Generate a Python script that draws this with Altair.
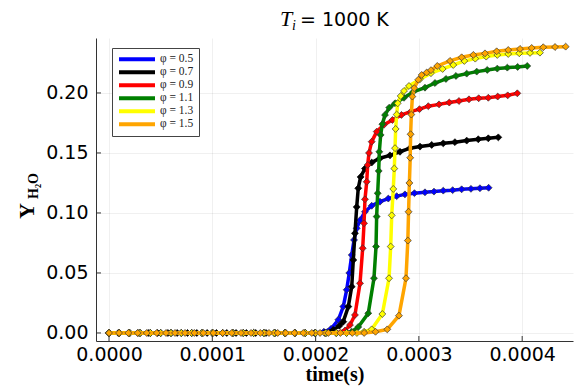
import altair as alt
import pandas as pd

PHI_LABELS = ["φ = 0.5", "φ = 0.7", "φ = 0.9", "φ = 1.1", "φ = 1.3", "φ = 1.5"]
COLORS = ["#0000ff", "#000000", "#ff0000", "#008000", "#ffff00", "#ffa500"]

# time values in units of 1e-4 s, Y_H2O mass fraction
T_05 = [0.0, 0.1, 0.2, 0.3, 0.4, 0.5, 0.6, 0.7, 0.8, 0.9, 1.0, 1.1, 1.2, 1.3, 1.4, 1.5, 1.6, 1.7, 1.8, 1.9, 2.0,
        2.08, 2.15, 2.22, 2.268, 2.301, 2.326, 2.35, 2.372, 2.398, 2.43, 2.478, 2.543, 2.623, 2.704, 2.785, 2.865,
        2.957, 3.059, 3.146, 3.236, 3.327, 3.414, 3.504, 3.591, 3.675]
Y_05 = [0, 0, 0, 0, 0, 0, 0, 0, 0, 0, 0, 0, 0, 0, 0, 0, 0, 0, 0, 0, 0,
        0.001, 0.0035, 0.011, 0.022, 0.036, 0.05, 0.065, 0.0775, 0.0872, 0.094, 0.101, 0.106, 0.1094, 0.112, 0.114, 0.1155,
        0.1165, 0.1172, 0.1178, 0.1186, 0.119, 0.1197, 0.1201, 0.1206, 0.121]

T_07 = [0.0, 0.09, 0.19, 0.28, 0.38, 0.47, 0.57, 0.66, 0.76, 0.85, 0.95, 1.04, 1.14, 1.23, 1.33, 1.42, 1.52, 1.61,
        1.71, 1.80, 1.90, 1.99, 2.09, 2.171, 2.23, 2.268, 2.317, 2.35, 2.365, 2.381, 2.398, 2.413, 2.436, 2.478, 2.543,
        2.623, 2.72, 2.817, 2.914, 3.011, 3.124, 3.236, 3.349, 3.463, 3.575, 3.672, 3.769]
Y_07 = [0, 0, 0, 0, 0, 0, 0, 0, 0, 0, 0, 0, 0, 0, 0, 0, 0, 0,
        0, 0, 0, 0, 0, 0.0025, 0.006, 0.0094, 0.022, 0.0386, 0.0608, 0.083, 0.105, 0.1206, 0.13, 0.137, 0.142,
        0.1456, 0.148, 0.151, 0.154, 0.1553, 0.1567, 0.158, 0.159, 0.1603, 0.1614, 0.1622, 0.163]

T_09 = [0.0, 0.1, 0.2, 0.3, 0.4, 0.5, 0.6, 0.7, 0.8, 0.9, 1.0, 1.1, 1.2, 1.3, 1.4, 1.5, 1.6, 1.7, 1.8, 1.9, 2.0, 2.1, 2.2,
        2.285, 2.333, 2.381, 2.43, 2.456, 2.469, 2.478, 2.495, 2.504, 2.517, 2.543, 2.592, 2.662, 2.744, 2.831, 2.921,
        3.006, 3.091, 3.195, 3.294, 3.388, 3.485, 3.579, 3.672, 3.763, 3.86, 3.953]
Y_09 = [0, 0, 0, 0, 0, 0, 0, 0, 0, 0, 0, 0, 0, 0, 0, 0, 0, 0, 0, 0, 0, 0, 0,
        0.002, 0.0067, 0.015, 0.0414, 0.0706, 0.0914, 0.1114, 0.126, 0.14, 0.15, 0.1594, 0.1678, 0.1735, 0.1775, 0.1817, 0.1844,
        0.1865, 0.189, 0.1905, 0.192, 0.1933, 0.1947, 0.1956, 0.196, 0.197, 0.198, 0.1997]

T_11 = [0.0, 0.1, 0.2, 0.3, 0.4, 0.5, 0.6, 0.7, 0.8, 0.9, 1.0, 1.1, 1.2, 1.3, 1.4, 1.5, 1.6, 1.7, 1.8, 1.9, 2.0, 2.1, 2.2, 2.3,
        2.35, 2.413, 2.51, 2.565, 2.585, 2.591, 2.601, 2.611, 2.617, 2.63, 2.646, 2.672, 2.713, 2.769, 2.856, 2.946,
        3.059, 3.156, 3.262, 3.359, 3.463, 3.56, 3.662, 3.759, 3.856, 3.956, 4.049]
Y_11 = [0, 0, 0, 0, 0, 0, 0, 0, 0, 0, 0, 0, 0, 0, 0, 0, 0, 0, 0, 0, 0, 0, 0, 0,
        0.001, 0.005, 0.0164, 0.0456, 0.072, 0.097, 0.1164, 0.135, 0.151, 0.165, 0.174, 0.1817, 0.1878, 0.1914, 0.196, 0.201,
        0.2044, 0.2083, 0.2117, 0.2142, 0.2161, 0.2178, 0.2192, 0.2203, 0.2211, 0.2217, 0.2225]

T_13 = [0.0, 0.1, 0.2, 0.3, 0.4, 0.5, 0.6, 0.7, 0.8, 0.9, 1.0, 1.1, 1.2, 1.3, 1.4, 1.5, 1.6, 1.7, 1.8, 1.9, 2.0, 2.1, 2.2,
        2.3, 2.4, 2.47, 2.543, 2.646, 2.711, 2.727, 2.737, 2.752, 2.762, 2.769, 2.775, 2.785, 2.795, 2.824, 2.856, 2.904,
        3.011, 3.117, 3.23, 3.333, 3.44, 3.546, 3.652, 3.759, 3.865, 3.972, 4.076, 4.172]
Y_13 = [0, 0, 0, 0, 0, 0, 0, 0, 0, 0, 0, 0, 0, 0, 0, 0, 0, 0, 0, 0, 0, 0, 0,
        0, 0, 0.001, 0.003, 0.0158, 0.0456, 0.072, 0.098, 0.12, 0.137, 0.154, 0.17, 0.182, 0.1914, 0.1975, 0.2017, 0.2058,
        0.2115, 0.2165, 0.22, 0.2233, 0.2267, 0.2286, 0.2303, 0.2317, 0.2325, 0.2331, 0.2334, 0.2336]

T_15 = [0.0, 0.097, 0.187, 0.278, 0.365, 0.462, 0.552, 0.639, 0.736, 0.826, 0.913, 1.01, 1.1, 1.188, 1.278, 1.375,
        1.465, 1.549, 1.633, 1.711, 1.794, 1.881, 1.963, 2.043, 2.123, 2.24, 2.355, 2.47,
        2.58, 2.694, 2.807, 2.875, 2.893, 2.9, 2.908, 2.916, 2.92, 2.927, 2.937, 2.955, 2.994, 3.027, 3.075, 3.117,
        3.178, 3.301, 3.414, 3.527, 3.64, 3.753, 3.865, 3.979, 4.092, 4.204, 4.318, 4.421]
Y_15 = [0, 0, 0, 0, 0, 0, 0, 0, 0, 0, 0, 0, 0, 0, 0, 0,
        0, 0, 0, 0, 0, 0, 0, 0, 0, 0, 0, 0,
        0.001, 0.003, 0.0144, 0.0456, 0.077, 0.101, 0.125, 0.146, 0.1656, 0.182, 0.197, 0.204, 0.211, 0.215, 0.217, 0.219,
        0.2225, 0.2267, 0.2297, 0.2317, 0.233, 0.2347, 0.2358, 0.2367, 0.2375, 0.2381, 0.2383, 0.2386]

SERIES_T = [T_05, T_07, T_09, T_11, T_13, T_15]
SERIES_Y = [Y_05, Y_07, Y_09, Y_11, Y_13, Y_15]

X_TICKS = [0.0, 0.0001, 0.0002, 0.0003, 0.0004]
Y_TICKS = [0.0, 0.05, 0.10, 0.15, 0.20]

W, H = 477, 303
X_DOMAIN = [-0.0000126, 0.0004492]
Y_DOMAIN = [-0.0067, 0.2458]

xs = alt.Scale(domain=X_DOMAIN, nice=False, zero=False)
ys = alt.Scale(domain=Y_DOMAIN, nice=False, zero=False)
cs = alt.Scale(domain=PHI_LABELS, range=COLORS)

x_axis = alt.Axis(values=X_TICKS, format=".4f", title="time(s)", grid=True, tickSize=0,
                  labelFont="DejaVu Sans", labelFontSize=19, labelColor="#000", labelPadding=4,
                  titleFont="Liberation Serif", titleFontSize=20, titleFontWeight="bold", titleColor="#000",
                  titlePadding=0, domainColor="#333", domainWidth=1,
                  gridColor="#000", gridOpacity=0.08, gridWidth=0.8)
y_axis = alt.Axis(values=Y_TICKS, format=".2f", title=None, grid=True, tickSize=0,
                  labelFont="DejaVu Sans", labelFontSize=19, labelColor="#000", labelPadding=8,
                  domainColor="#333", domainWidth=1,
                  gridColor="#000", gridOpacity=0.08, gridWidth=0.8)

legend = alt.Legend(title=None, orient="none", legendX=16, legendY=10, symbolType="stroke",
                    symbolSize=1296, symbolStrokeWidth=4, clipHeight=12.4, rowPadding=0,
                    padding=5, strokeColor="#444", fillColor="white", labelFont="Liberation Serif",
                    labelFontSize=11.5, labelColor="#222", labelOffset=3, cornerRadius=0)

layers = []
for i, (lab, col) in enumerate(zip(PHI_LABELS, COLORS)):
    df = pd.DataFrame({"t": [v * 1e-4 for v in SERIES_T[i]], "y": SERIES_Y[i], "phi": lab})
    base = alt.Chart(df)
    line = base.mark_line(strokeWidth=3.5, clip=True).encode(
        x=alt.X("t:Q", scale=xs, axis=x_axis),
        y=alt.Y("y:Q", scale=ys, axis=y_axis),
        color=alt.Color("phi:N", scale=cs, legend=legend),
    )
    pts = base.mark_point(shape="diamond", filled=True, size=48, fill=col,
                          stroke="#000" if col == "#000000" else "#333", strokeWidth=0.7, opacity=1).encode(
        x=alt.X("t:Q", scale=xs),
        y=alt.Y("y:Q", scale=ys),
    )
    layers += [line, pts]

# inward tick marks
xt = alt.Chart(pd.DataFrame({"t": X_TICKS})).mark_rule(color="#333", strokeWidth=1).encode(
    x=alt.X("t:Q", scale=xs), y=alt.value(H), y2=alt.value(H - 5))
yt = alt.Chart(pd.DataFrame({"y": Y_TICKS})).mark_rule(color="#333", strokeWidth=1).encode(
    y=alt.Y("y:Q", scale=ys), x=alt.value(0), x2=alt.value(5))

# title pieces: T_i = 1000 K
title_df = pd.DataFrame({"a": [0]})
tT = alt.Chart(title_df).mark_text(text="T", font="Liberation Serif", fontStyle="italic", fontSize=22,
                                   align="left", baseline="alphabetic", color="#000").encode(
    x=alt.value(184), y=alt.value(-12))
ti = alt.Chart(title_df).mark_text(text="i", font="Liberation Serif", fontStyle="italic", fontSize=14,
                                   align="left", baseline="alphabetic", color="#000").encode(
    x=alt.value(196), y=alt.value(-8))
teq = alt.Chart(title_df).mark_text(text="= 1000 K", font="DejaVu Sans", fontSize=19,
                                    align="left", baseline="alphabetic", color="#000").encode(
    x=alt.value(204), y=alt.value(-12))

# y label: Y_{H2O}
yY = alt.Chart(title_df).mark_text(text="Y", font="Liberation Serif", fontWeight="bold", fontSize=22,
                                   angle=270, align="center", baseline="middle", color="#000").encode(
    x=alt.value(-69), y=alt.value(173))
yH = alt.Chart(title_df).mark_text(text="H₂O", font="Liberation Serif", fontWeight="bold", fontSize=14,
                                   angle=270, align="center", baseline="middle", color="#000").encode(
    x=alt.value(-62), y=alt.value(148))

chart = alt.layer(*layers, xt, yt, tT, ti, teq, yY, yH).properties(
    width=W, height=H,
    autosize=alt.AutoSizeParams(type="none"),
    padding={"left": 96, "top": 38, "right": 1, "bottom": 49},
    background="white",
).configure_view(stroke=None)

chart.save("out.html", embed_options={"renderer": "svg", "actions": False})
